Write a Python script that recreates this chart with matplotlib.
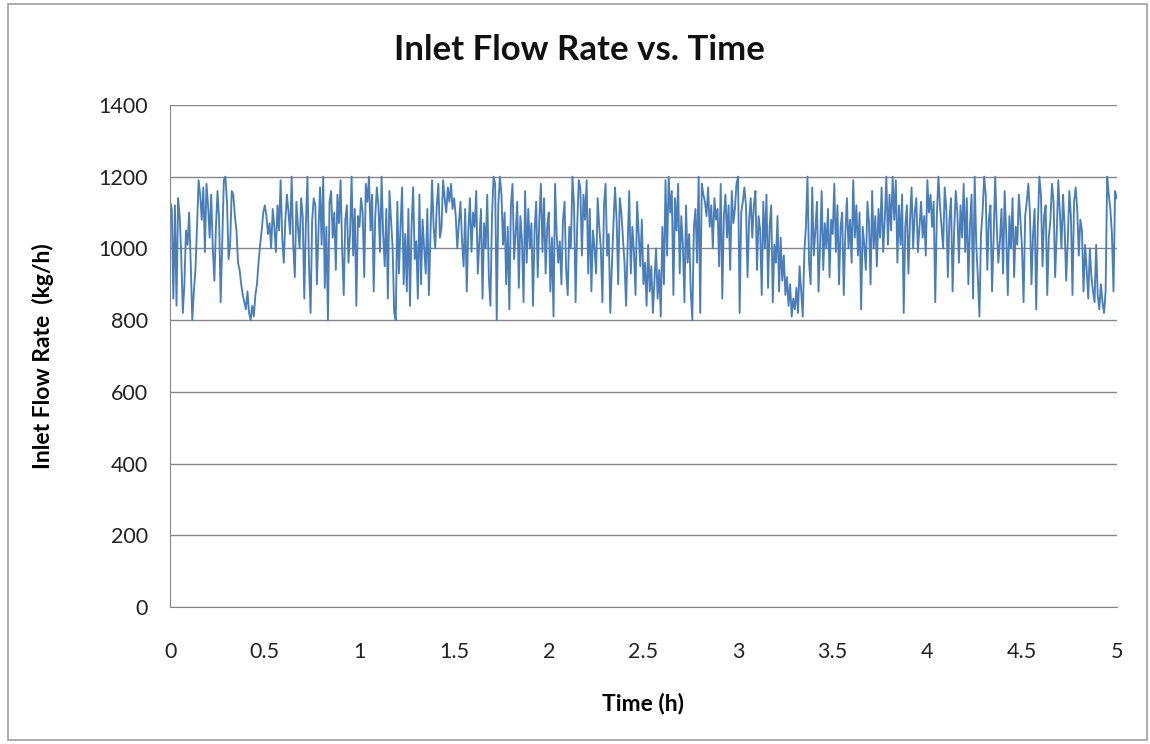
import matplotlib.pyplot as plt
import numpy as np
from matplotlib.patches import Rectangle

# inlet flow rate (kg/h), one reading every 30 s
flow = [
    1130, 1110, 860, 1120, 840, 1140, 1090, 980, 820, 900, 1050, 1010, 1100, 960, 800,
    880, 940, 1060, 1190, 1150, 1080, 1170, 990, 1180, 1120, 1030, 1150, 1000, 910, 1060,
    1160, 1080, 850, 1020, 1190, 1200, 1130, 970, 1010, 1160, 1150, 1090, 1050, 960, 940,
    900, 870, 850, 830, 880, 820, 800, 840, 810, 870, 900, 960, 1010, 1050, 1100,
    1120, 1090, 1040, 1070, 1000, 1110, 1060, 990, 1120, 1050, 1190, 1030, 960, 1080, 1150,
    1100, 1040, 1200, 1010, 920, 1130, 1060, 1000, 1140, 1090, 860, 1070, 1200, 950, 820,
    1080, 1140, 1120, 900, 1050, 1170, 1010, 1200, 890, 1060, 800, 1130, 1160, 1030, 1100,
    940, 1150, 1070, 1190, 1000, 870, 1080, 1120, 960, 1040, 1200, 980, 1110, 840, 1090,
    1060, 1140, 1100, 920, 1180, 1130, 1200, 1050, 1150, 880, 1090, 1170, 1120, 990, 1200,
    1040, 950, 1110, 860, 1160, 1080, 1000, 820, 800, 1130, 930, 1060, 1170, 900, 1040,
    880, 1110, 840, 1060, 1170, 970, 1020, 860, 1150, 900, 1080, 1000, 930, 1110, 870,
    1040, 1190, 1060, 1000, 1120, 1180, 1030, 1060, 1190, 1140, 1100, 1170, 1130, 1180, 1110,
    1140, 1090, 1000, 1070, 1130, 1020, 950, 1110, 880, 1050, 1140, 990, 1100, 1060, 1160,
    930, 1020, 1110, 860, 1070, 1000, 1150, 920, 840, 1090, 1200, 1180, 800, 1120, 1200,
    1150, 1010, 1100, 900, 1060, 830, 1120, 1180, 970, 1040, 1130, 890, 1090, 1020, 850,
    1160, 960, 1110, 1000, 1070, 840, 1050, 1130, 920, 1080, 1180, 990, 1140, 930, 1060,
    1100, 880, 1030, 810, 1180, 1040, 960, 1020, 900, 1080, 1130, 940, 870, 1060, 1000,
    1200, 1120, 850, 1060, 1190, 1170, 980, 1150, 1080, 1190, 930, 1110, 880, 1050, 1000,
    930, 1140, 1060, 1000, 850, 1120, 1180, 980, 1040, 820, 950, 1070, 1170, 1080, 900,
    1140, 1100, 1030, 960, 840, 1010, 1160, 930, 1060, 990, 870, 1130, 1040, 950, 1080,
    900, 960, 840, 1010, 880, 950, 820, 910, 1000, 860, 940, 810, 1060, 900, 1190,
    980, 1200, 1100, 1160, 870, 1140, 1050, 1180, 930, 1090, 1010, 850, 1120, 960, 1040,
    880, 800, 1060, 1110, 960, 1200, 820, 1180, 1150, 1130, 1090, 1170, 1060, 1120, 1000,
    1140, 1080, 1110, 950, 1180, 860, 1090, 1150, 1030, 1120, 940, 1160, 1070, 1110, 1180,
    1200, 820, 1100, 1130, 1170, 1120, 920, 1080, 1140, 1030, 1120, 1160, 940, 1090, 1050,
    870, 1130, 1000, 1150, 890, 1060, 1120, 850, 1010, 960, 1090, 880, 1030, 910, 980,
    870, 920, 840, 900, 810, 860, 830, 890, 820, 950, 880, 810, 990, 1060, 1200,
    960, 900, 1170, 980, 1050, 1130, 880, 1010, 1160, 940, 1070, 1000, 1110, 920, 1080,
    1040, 1180, 990, 1120, 900, 1060, 1100, 870, 1040, 1140, 1000, 1080, 960, 1190, 1030,
    1120, 980, 1100, 830, 1060, 1010, 940, 1130, 1070, 900, 1160, 1000, 1090, 950, 1110,
    1030, 1170, 990, 1080, 1200, 1010, 1150, 1050, 1200, 1080, 1190, 960, 1120, 1010, 1150,
    820, 1060, 1120, 930, 1080, 1170, 1000, 1100, 1140, 990, 1060, 1130, 1030, 1090, 980,
    1190, 1100, 1150, 1060, 1130, 850, 1090, 1200, 1120, 1060, 1000, 1170, 1110, 920, 1080,
    1140, 880, 1050, 1160, 1100, 960, 1120, 1030, 1180, 990, 1140, 900, 1060, 1150, 860,
    1200, 1010, 920, 810, 1040, 1100, 1200, 1150, 940, 1080, 1120, 880, 1030, 1200, 1060,
    960, 1020, 1110, 930, 1160, 1040, 870, 1090, 1000, 1140, 920, 1060, 1010, 1150, 1080,
    1000, 850, 1090, 1130, 1180, 1100, 900, 1040, 1110, 830, 1060, 1200, 1150, 950, 1090,
    1120, 870, 1030, 1080, 1180, 1130, 920, 1040, 1190, 1100, 1000, 1150, 1060, 910, 1020,
    1160, 1090, 870, 1130, 1170, 1110, 980, 1080, 1050, 880, 1010, 940, 860, 1000, 920,
    880, 850, 1010, 870, 830, 900, 850, 820, 880, 1200, 1150, 1110, 1040, 880, 1160,
    1140,
]
time_h = np.arange(len(flow)) / 120.0

yticks = [0, 200, 400, 600, 800, 1000, 1200, 1400]
xticks = [0, 0.5, 1, 1.5, 2, 2.5, 3, 3.5, 4, 4.5, 5]
xticklabels = ['0', '0.5', '1', '1.5', '2', '2.5', '3', '3.5', '4', '4.5', '5']

plt.rcParams['font.family'] = ['Lato', 'DejaVu Sans']

fig = plt.figure(figsize=(11.5, 7.44), dpi=100)
fig.patches.append(Rectangle((0.007, 0.005), 0.99, 0.99, transform=fig.transFigure,
                             fill=False, edgecolor='#a0a0a0', linewidth=1.2))

ax = fig.add_axes([0.148, 0.184, 0.823, 0.675])
ax.plot(time_h, flow, color='#4A7EBB', linewidth=1.35)

ax.set_xlim(0, 5)
ax.set_ylim(0, 1400)
ax.set_yticks(yticks)
ax.set_xticks(xticks)
ax.set_xticklabels(xticklabels)
ax.yaxis.grid(True, color='#868686', linewidth=1.0)
ax.set_axisbelow(True)
for s in ['top', 'right']:
    ax.spines[s].set_visible(False)
for s in ['left', 'bottom']:
    ax.spines[s].set_color('#868686')
ax.tick_params(length=0, labelsize=15.5, colors='#222222', pad=25)
ax.tick_params(axis='y', pad=16)

fig.text(0.504, 0.933, 'Inlet Flow Rate vs. Time', ha='center', va='center',
         fontsize=25, fontweight='bold', color='#111111')
ax.set_xlabel('Time (h)', fontsize=16.5, fontweight='bold', labelpad=22)
ax.set_ylabel('Inlet Flow Rate  (kg/h)', fontsize=16.5, fontweight='bold', labelpad=32)

plt.savefig('out.png', dpi=100)
